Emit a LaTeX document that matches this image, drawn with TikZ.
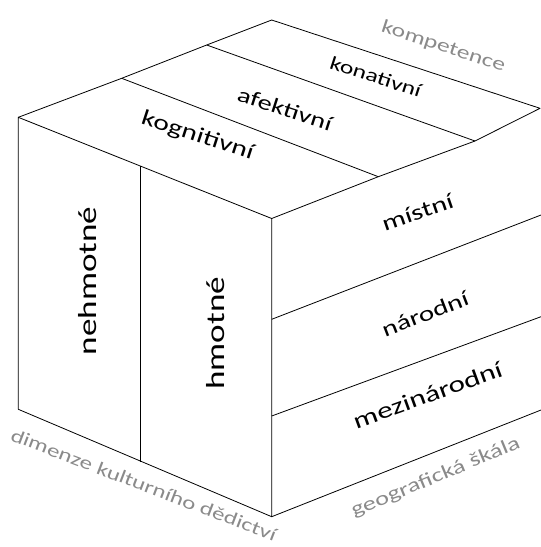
\documentclass[tikz,border=0pt]{standalone}
\usepackage{fontspec}
\setmainfont{Carlito}
\newfontfamily\wf[FakeStretch=1.35]{Carlito}
\definecolor{lblgray}{RGB}{138,138,138}
\tikzset{
  edge/.style={draw=black, line width=0.8pt, line join=round},
  lbl/.style={inner sep=0pt, anchor=center, text=black},
  axis/.style={inner sep=0pt, anchor=center, text=lblgray},
}
\begin{document}
\begin{tikzpicture}[x=1pt,y=1pt]
\useasboundingbox (0,0) rectangle (541,-547);
% corners
\coordinate (A) at (18.3,-117.3);
\coordinate (B) at (271.7,-218.5);
\coordinate (C) at (18.3,-409.3);
\coordinate (D) at (271.7,-516.7);
\coordinate (T1) at (121.7,-78.3);
\coordinate (T2) at (206.7,-45);
\coordinate (T3) at (271.7,-20);
\coordinate (R1) at (378.3,-176.7);
\coordinate (R2) at (475,-141);
\coordinate (R) at (540,-108.3);
\coordinate (F1) at (140,-166);
\coordinate (F2) at (140,-461.7);
\coordinate (M1) at (271.7,-319.3);
\coordinate (M1e) at (541,-215);
\coordinate (M2) at (271.7,-416);
\coordinate (M2e) at (541,-316.7);
\coordinate (De) at (541,-410);
% front face
\draw[edge] (A) -- (B) -- (D) -- (C) -- cycle;
\draw[edge] (F1) -- (F2);
% top face
\draw[edge] (A) -- (T1) -- (T2) -- (T3) -- (R) -- (R2) -- (R1) -- (B);
\draw[edge] (T1) -- (R1);
\draw[edge] (T2) -- (R2);
% right face
\draw[edge] (M1) -- (M1e);
\draw[edge] (M2) -- (M2e);
\draw[edge] (D) -- (De);
% labels
\node[lbl, rotate=90, font=\wf\fontsize{26}{30}\selectfont] (neh) at (87.5,-281) {nehmotné};
\node[lbl, rotate=90, font=\wf\fontsize{26}{30}\selectfont] (hmo) at (215.8,-333.3) {hmotné};
\node[lbl, rotate=-18, font=\wf\fontsize{22}{26}\selectfont] (kog) at (197.5,-136) {kognitivní};
\node[lbl, rotate=-18, font=\wf\fontsize{21}{25}\selectfont] (afe) at (285,-109) {afektivní};
\node[lbl, rotate=-18, font=\wf\fontsize{19}{23}\selectfont] (kon) at (375.8,-76.7) {konativní};
\node[axis, rotate=-18, font=\wf\fontsize{19}{23}\selectfont] (kom) at (443.3,-46.7) {kompetence};
\node[lbl, rotate=19, font=\wf\fontsize{22}{26}\selectfont] (mis) at (417.5,-212.5) {místní};
\node[lbl, rotate=21, font=\wf\fontsize{21.5}{25}\selectfont] (nar) at (425,-314) {národní};
\node[lbl, rotate=20, font=\wf\fontsize{23}{27}\selectfont] (mez) at (427.5,-395) {mezinárodní};
\node[axis, rotate=22.5, font=\wf\fontsize{19.5}{23}\selectfont] (geo) at (435.8,-477.5) {geografická škála};
\node[axis, rotate=-21, font=\wf\fontsize{18.5}{22}\selectfont] (dim) at (144,-485) {dimenze kulturního dědictví};
\end{tikzpicture}
\end{document}
